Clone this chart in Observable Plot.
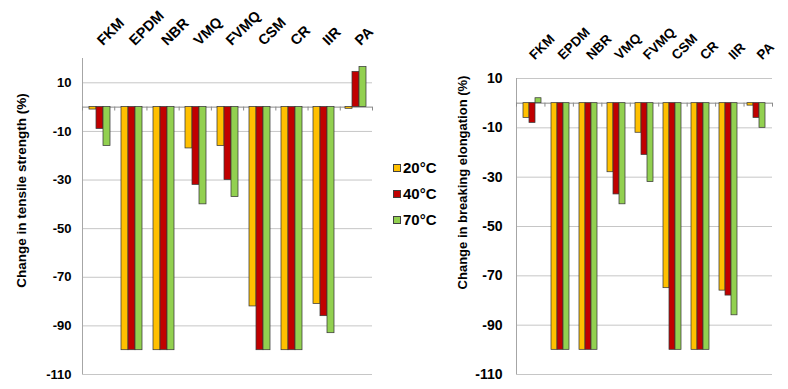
<!DOCTYPE html>
<html><head><meta charset="utf-8">
<script src="https://cdn.jsdelivr.net/npm/d3@7"></script>
<script src="https://cdn.jsdelivr.net/npm/@observablehq/plot@0.6"></script>
<style>
body{margin:0;background:#fff;}
#wrap{position:relative;width:788px;height:389px;overflow:hidden;font-family:"Liberation Sans",Arial,sans-serif;}
.leg{position:absolute;font-weight:bold;font-size:15px;color:#000;line-height:15px;white-space:nowrap;}
.sw{position:absolute;width:6px;height:6px;border:1px solid #404040;}
</style></head><body><div id="wrap"></div>
<script>
const categories = ["FKM","EPDM","NBR","VMQ","FVMQ","CSM","CR","IIR","PA"];
const series = ["20°C","40°C","70°C"];
const colors = ["#FFC000","#C00000","#92D050"];
const tensile20 = [-1,-100,-100,-17,-16,-82,-100,-81,-0.7];
const tensile40 = [-9,-100,-100,-32,-30,-100,-100,-86,14.5];
const tensile70 = [-16,-100,-100,-40,-37,-100,-100,-93,16.5];
const elong20 = [-6,-100,-100,-28,-12,-75,-100,-76,-1];
const elong40 = [-8,-100,-100,-37,-21,-100,-100,-78,-6];
const elong70 = [2,-100,-100,-41,-32,-100,-100,-86,-10];
const yTicks = [-110,-90,-70,-50,-30,-10,10];
const titles = ["Change in tensile strength (%)", "Change in breaking elongation (%)"];

const wrap = document.getElementById("wrap");
const FONT = '"Liberation Sans", Arial, sans-serif';

function drawChart(o) {
  const height = 389;
  const base = `position:absolute;left:${o.left}px;top:0;max-width:none;overflow:visible;font-family:${FONT};`;
  const bg = Plot.plot({
    width: o.width, height, marginLeft: o.ml, marginRight: o.mr, marginTop: o.mt, marginBottom: o.mb,
    style: base + "background:white;",
    x: {domain: [0, categories.length], axis: null},
    y: {domain: o.yDomain, axis: null},
    marks: [
      Plot.gridY(yTicks, {stroke: "#c6c6c6", strokeOpacity: 1}),
      Plot.axisY(yTicks, {tickSize: 0, tickPadding: o.tickPad, fontSize: o.tickFont, fontWeight: "bold", fill: "#000", label: null, tickFormat: d => String(d)}),
      Plot.ruleX([0], {stroke: "#a6a6a6"}),
      Plot.ruleY([0], {stroke: "#8a8a8a"}),
      Plot.ruleX(d3.range(categories.length + 1), {y1: 0, y2: -1.6, stroke: "#8a8a8a"}),
      Plot.text([o.title], {text: d => d, frameAnchor: "left", textAnchor: "middle", lineAnchor: "middle", rotate: -90, dx: o.titleDx, dy: o.titleDy, fontSize: o.titleFont, fontWeight: "bold", fill: "#000"}),
      Plot.text(categories, {x: (d, i) => i + 0.5, y: () => o.yDomain[1], text: d => d, rotate: -45, textAnchor: "start", lineAnchor: "middle", dx: o.catDx, dy: o.catDy, fontSize: o.catFont, fontWeight: "bold", fill: "#000"})
    ]
  });
  const rows = [];
  categories.forEach((c, i) => series.forEach((s, j) => rows.push({cat: c, series: s, value: o.vals[j][i]})));
  const fg = Plot.plot({
    width: o.width, height, marginLeft: o.ml, marginRight: o.mr, marginTop: o.mt, marginBottom: o.mb,
    style: base + "background:transparent;",
    fx: {domain: categories, paddingInner: o.pad, paddingOuter: o.pad / 2, axis: null},
    x: {domain: series, padding: 0, axis: null},
    y: {domain: o.yDomain, axis: null},
    color: {domain: series, range: colors},
    marks: [
      Plot.barY(rows, {fx: "cat", x: "series", y: "value", fill: "series", stroke: "#3a3a3a", strokeWidth: 0.75})
    ]
  });
  wrap.appendChild(bg);
  wrap.appendChild(fg);
}

drawChart({left: 0, width: 390, ml: 82, mr: 18, mt: 58, mb: 15, yDomain: [-110, 20],
  vals: [tensile20, tensile40, tensile70], title: titles[0], titleDx: -61, titleDy: -26, titleFont: 13.5,
  tickPad: 11, tickFont: 13, catFont: 14.5, catDx: 1, catDy: -15.5, pad: 0.32});
drawChart({left: 420, width: 368, ml: 96, mr: 16, mt: 78, mb: 15, yDomain: [-110, 10],
  vals: [elong20, elong40, elong70], title: titles[1], titleDx: -54, titleDy: -44, titleFont: 13,
  tickPad: 14, tickFont: 14, catFont: 13.5, catDx: 1, catDy: -21, pad: 0.34});

// legend
const legY = [168, 194, 220];
series.forEach((s, i) => {
  const sw = document.createElement("div");
  sw.className = "sw";
  sw.style.left = "393px";
  sw.style.top = (legY[i] - 4) + "px";
  sw.style.background = colors[i];
  wrap.appendChild(sw);
  const t = document.createElement("div");
  t.className = "leg";
  t.style.left = "403px";
  t.style.top = (legY[i] - 8) + "px";
  t.textContent = s;
  wrap.appendChild(t);
});
</script></body></html>
